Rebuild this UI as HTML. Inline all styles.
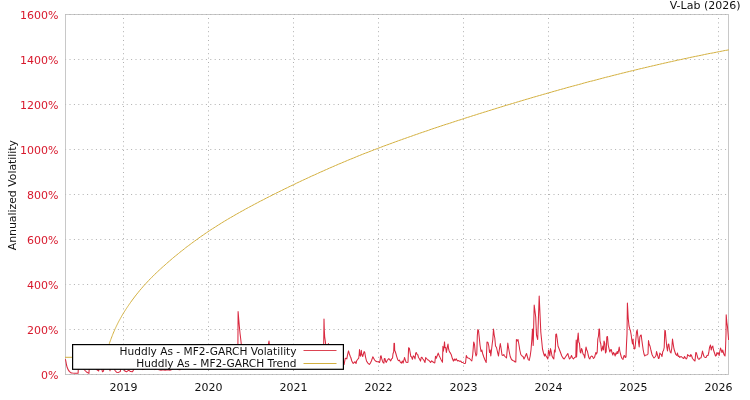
<!DOCTYPE html>
<html><head><meta charset="utf-8"><style>html,body{margin:0;padding:0;background:#fff;width:750px;height:400px;overflow:hidden}svg{display:block;will-change:transform}</style></head>
<body><svg width="750" height="400" viewBox="0 0 750 400">
<style>
text{font-family:"DejaVu Sans","Liberation Sans",sans-serif;font-size:11px;}
.g{stroke:#b0b0b0;stroke-width:1;stroke-dasharray:1 3.4;fill:none}
.gh{stroke:#b0b0b0;stroke-width:1;stroke-dasharray:1 3.4;stroke-dashoffset:0.4;fill:none}
.gv{stroke:#b0b0b0;stroke-width:1;stroke-dasharray:1 3.4;stroke-dashoffset:0.9;fill:none}
.yl{fill:#d8182c;text-anchor:end}
.xl{fill:#111;text-anchor:middle}
</style>
<rect x="0" y="0" width="750" height="400" fill="#fff"/>
<rect x="65.5" y="14.5" width="663.0" height="360.0" fill="none" stroke="#c8c8c8" stroke-width="1"/>
<g><line x1="65.5" y1="374.5" x2="728.5" y2="374.5" class="gh"/><line x1="65.5" y1="329.5" x2="728.5" y2="329.5" class="gh"/><line x1="65.5" y1="284.5" x2="728.5" y2="284.5" class="gh"/><line x1="65.5" y1="239.5" x2="728.5" y2="239.5" class="gh"/><line x1="65.5" y1="194.5" x2="728.5" y2="194.5" class="gh"/><line x1="65.5" y1="149.5" x2="728.5" y2="149.5" class="gh"/><line x1="65.5" y1="104.5" x2="728.5" y2="104.5" class="gh"/><line x1="65.5" y1="59.5" x2="728.5" y2="59.5" class="gh"/><line x1="65.5" y1="14.5" x2="728.5" y2="14.5" class="gh"/><line x1="123.5" y1="14.5" x2="123.5" y2="374.5" class="gv"/><line x1="208.5" y1="14.5" x2="208.5" y2="374.5" class="gv"/><line x1="293.5" y1="14.5" x2="293.5" y2="374.5" class="gv"/><line x1="378.5" y1="14.5" x2="378.5" y2="374.5" class="gv"/><line x1="463.5" y1="14.5" x2="463.5" y2="374.5" class="gv"/><line x1="548.5" y1="14.5" x2="548.5" y2="374.5" class="gv"/><line x1="633.5" y1="14.5" x2="633.5" y2="374.5" class="gv"/><line x1="718.5" y1="14.5" x2="718.5" y2="374.5" class="gv"/></g>
<svg x="65.5" y="14.5" width="663.0" height="360.0" viewBox="65.5 14.5 663.0 360.0" overflow="hidden">
<polyline points="65.4,359.1 66.0,362.0 66.5,365.0 67.3,367.8 68.3,369.9 69.3,371.4 70.4,372.4 71.5,372.9 72.5,373.1 75.0,373.3 78.1,373.3 78.5,364.0 80.0,358.0 81.0,362.0 82.5,366.0 84.0,369.5 86.5,372.0 88.9,373.4 89.6,364.0 91.0,360.0 93.0,362.0 95.5,364.0 97.0,369.8 98.7,371.0 99.5,366.0 100.5,364.0 101.5,368.0 102.5,371.8 103.5,371.0 104.5,365.0 106.0,362.0 109.3,366.0 110.0,370.8 110.7,366.0 112.0,362.0 113.8,366.0 115.0,370.5 116.5,372.2 118.5,372.4 120.3,371.5 121.2,366.0 122.5,362.0 123.7,367.0 124.8,371.0 126.5,371.8 128.7,370.2 130.5,371.6 132.5,371.8 134.0,369.0 135.0,362.0 137.0,364.0 139.0,361.0 141.0,366.0 142.5,369.6 144.0,369.5 146.0,365.0 148.0,361.0 150.0,363.0 152.0,360.0 154.0,365.0 155.0,369.6 156.0,366.0 157.5,368.0 159.0,369.8 161.0,370.2 163.0,369.8 165.0,370.2 168.0,369.8 170.0,370.2 172.0,369.6 173.0,366.0 175.0,362.0 177.0,368.0 178.0,369.6 180.0,369.8 181.5,366.0 183.0,362.0 186.0,364.0 189.0,360.0 192.0,362.0 195.0,358.0 198.0,361.0 201.0,357.0 204.0,360.0 207.0,356.0 210.0,359.0 213.0,357.0 216.0,360.0 219.0,356.0 222.0,358.0 225.0,355.0 228.0,358.0 231.0,356.0 234.0,359.0 236.0,356.0 237.9,346.0 238.1,311.5 238.8,320.0 239.4,327.0 240.1,334.0 240.6,338.0 241.5,346.0 243.0,355.0 246.0,358.0 249.0,355.0 252.0,358.0 255.0,354.0 258.0,357.0 261.0,355.0 264.0,358.0 267.0,352.0 269.0,341.0 270.0,350.0 272.0,357.0 275.0,354.0 278.0,357.0 281.0,353.0 284.0,357.0 287.0,354.0 290.0,358.0 293.0,355.0 296.0,358.0 299.0,354.0 302.0,357.0 305.0,353.0 308.0,356.0 311.0,354.0 314.0,357.0 317.0,353.0 320.0,356.0 322.0,353.0 323.7,345.0 324.0,319.0 324.3,330.0 324.7,337.0 325.3,341.0 325.8,346.0 327.0,350.0 328.4,343.5 329.5,352.0 332.0,357.0 335.0,354.0 338.0,358.0 341.0,361.0 343.0,364.0 344.1,364.5 345.2,358.6 345.9,358.3 346.8,358.9 347.6,354.7 348.5,350.9 349.4,354.0 350.3,356.5 350.8,357.5 351.8,361.0 353.2,363.5 354.3,362.4 355.0,361.7 356.0,363.5 356.7,360.7 357.8,359.3 358.7,358.2 359.2,354.0 359.5,349.5 359.9,355.1 360.6,356.1 361.3,350.2 361.7,354.0 362.7,356.5 363.4,354.0 364.1,351.6 364.8,352.6 365.5,356.8 366.5,361.0 367.9,363.1 369.3,364.5 370.4,363.1 371.4,361.0 372.8,356.8 373.5,357.9 374.6,360.0 375.6,361.1 377.0,361.7 378.4,361.8 379.5,362.5 380.2,360.0 380.5,356.1 381.1,355.8 381.8,358.9 382.8,362.1 383.9,363.1 384.3,358.6 385.0,358.6 385.6,361.4 386.3,362.4 387.0,360.7 388.1,359.3 388.8,358.6 389.8,359.6 390.6,360.9 391.6,358.9 392.5,358.2 393.0,353.7 393.7,351.9 394.0,343.2 394.5,343.5 394.7,350.5 395.3,351.6 396.0,354.0 396.8,356.8 397.9,360.0 398.6,360.7 399.3,360.0 400.3,362.1 401.4,363.1 402.3,361.0 403.1,363.1 404.2,358.9 404.5,357.5 405.2,359.6 406.0,362.1 407.0,362.5 408.0,362.3 408.6,347.7 409.1,348.1 409.4,348.4 410.1,352.3 410.8,356.5 411.5,356.8 412.4,359.3 413.3,355.8 414.3,356.8 415.0,358.9 415.7,353.0 416.4,352.6 417.1,354.7 417.8,354.7 418.5,357.5 419.4,358.7 420.5,361.1 421.2,357.6 421.9,357.3 422.9,359.0 424.0,360.4 425.0,362.5 425.7,357.6 426.4,358.3 427.5,359.7 428.5,360.1 429.6,361.1 430.6,362.5 431.7,360.8 432.7,361.8 433.8,362.5 434.8,362.9 435.5,356.2 436.3,358.3 437.3,355.5 438.2,353.1 439.0,355.2 440.1,357.6 441.1,359.7 442.5,362.2 442.9,346.4 443.4,351.3 444.1,346.4 444.5,341.9 445.0,347.8 445.7,347.5 446.4,352.4 447.3,347.1 448.0,344.0 448.5,348.5 449.2,351.0 449.9,352.4 450.6,353.4 451.3,354.8 452.3,358.3 453.4,361.1 454.4,359.0 455.1,360.4 456.2,358.7 457.1,360.4 457.8,361.0 458.8,360.5 459.8,361.5 460.8,361.0 461.8,362.5 463.0,362.5 464.0,363.5 465.5,363.2 466.3,355.5 467.2,357.5 468.2,358.0 469.5,358.5 470.8,360.0 471.8,361.0 472.7,355.0 473.7,342.0 474.5,344.5 475.2,352.0 476.0,356.0 476.8,354.0 477.3,336.0 477.8,329.5 478.5,330.5 479.2,337.0 480.0,345.0 481.0,351.5 481.8,350.0 482.8,354.0 483.8,357.0 485.0,360.0 486.2,362.5 487.0,342.0 488.0,342.5 488.8,346.0 489.5,352.5 490.2,350.0 490.8,356.0 491.5,350.0 492.2,344.0 492.8,339.5 493.5,329.0 494.2,335.0 494.8,338.0 495.5,346.0 496.5,347.5 497.5,352.0 498.5,356.0 499.5,348.5 500.3,343.5 501.2,349.0 502.0,355.0 503.0,355.5 503.8,354.5 504.5,356.0 505.5,357.0 506.5,358.0 507.3,349.0 507.8,343.0 508.5,347.5 509.2,351.5 510.2,356.5 511.5,359.5 512.8,360.5 514.0,361.0 515.2,362.0 515.8,362.0 516.4,339.5 517.2,341.0 518.0,339.5 519.0,345.0 519.8,350.0 520.8,354.5 522.0,356.0 523.0,356.5 524.0,359.0 525.0,357.0 525.8,355.0 526.5,353.5 527.2,356.0 528.2,359.5 529.2,360.5 530.2,356.0 531.0,350.0 531.8,340.0 532.5,329.0 533.2,345.5 534.2,305.0 535.7,317.0 536.5,335.0 537.7,339.5 539.2,296.0 540.2,318.5 540.8,332.0 541.5,339.0 542.5,349.0 543.5,353.0 544.5,356.0 545.2,354.0 546.0,356.0 547.0,357.5 547.8,359.0 548.5,350.0 549.2,352.5 549.8,356.0 550.5,348.5 551.2,351.5 552.0,356.0 553.0,358.0 553.8,359.0 554.5,350.0 555.2,352.0 555.8,334.5 556.5,334.0 557.2,339.0 558.0,346.0 559.2,349.0 560.5,352.5 561.8,356.0 563.0,358.0 564.2,359.0 565.5,357.0 566.8,355.0 567.8,353.5 568.5,356.0 569.5,359.0 570.5,358.0 571.5,355.5 572.5,358.0 573.5,359.0 574.5,357.5 575.8,357.0 576.2,340.0 576.6,357.0 577.0,350.0 577.5,340.0 578.2,333.0 578.8,342.0 579.5,343.5 580.2,352.0 580.8,353.0 581.5,348.5 582.2,350.0 583.0,354.0 583.8,354.5 584.8,358.0 585.5,351.0 586.0,347.0 586.8,350.0 587.5,351.5 588.2,355.0 589.0,358.0 589.8,359.0 590.5,357.0 591.5,356.0 592.5,356.5 593.5,358.5 594.5,357.5 595.2,355.0 595.8,352.5 596.5,354.0 597.2,352.0 597.8,339.0 598.5,336.0 599.0,329.0 599.5,329.0 600.0,341.0 600.8,344.0 601.5,351.0 602.2,349.0 602.8,346.0 603.5,350.0 604.0,341.0 604.8,343.5 605.5,353.0 606.2,351.5 606.8,337.0 607.5,336.5 608.2,345.0 609.0,348.5 609.8,352.0 610.5,350.0 611.2,349.5 612.0,352.5 612.8,355.0 613.5,352.5 614.5,354.0 615.2,356.0 615.8,353.0 616.5,354.0 617.2,351.5 617.8,353.5 618.5,351.0 619.2,347.0 619.8,351.0 620.5,354.0 621.2,356.5 622.0,358.5 623.0,359.5 623.8,356.0 624.5,355.5 625.2,357.5 626.0,357.0 626.5,344.0 627.0,334.0 627.4,303.0 628.2,318.0 629.0,326.0 629.8,329.0 630.5,331.0 631.2,335.0 631.8,340.0 632.5,344.0 633.0,339.0 633.5,344.5 634.2,349.0 635.0,348.5 635.8,340.0 636.5,332.0 637.2,330.0 637.8,336.0 638.5,342.0 639.2,347.0 639.8,337.0 640.5,335.5 641.2,335.0 641.8,340.0 642.5,345.0 643.2,350.0 644.0,354.0 644.8,356.0 645.8,355.0 647.0,355.0 648.0,354.0 648.5,340.5 649.2,344.5 650.0,346.0 651.0,350.5 652.0,354.5 653.0,356.5 654.0,358.0 655.0,357.0 656.0,355.5 656.5,351.5 657.2,354.0 657.8,356.0 658.5,358.5 659.2,358.0 659.8,353.0 660.5,354.0 661.2,354.5 662.0,356.5 662.8,351.5 663.5,350.5 664.2,347.5 664.8,330.5 665.3,330.5 666.0,339.0 666.8,347.0 667.5,351.0 668.2,344.5 668.8,344.0 669.5,349.0 670.2,352.0 671.0,353.0 671.8,348.0 672.5,339.0 673.2,344.0 674.0,349.0 674.8,351.5 675.8,354.5 676.8,355.5 677.5,353.0 678.2,356.5 679.0,356.0 679.8,357.5 680.8,356.5 681.8,357.0 682.8,358.0 683.8,358.5 684.5,356.5 685.2,357.5 686.2,359.0 687.0,358.0 687.6,354.5 688.5,355.5 689.5,356.0 690.2,356.5 690.8,354.5 691.5,355.5 692.5,358.5 693.8,360.0 695.0,361.0 695.8,352.5 696.5,353.0 697.2,356.0 698.0,358.5 699.0,359.5 700.0,358.0 701.0,358.0 701.8,354.5 702.5,351.0 703.2,354.0 704.0,356.5 705.0,357.5 706.0,357.5 707.0,355.5 708.0,355.5 708.8,352.5 709.5,347.5 710.5,345.0 711.2,350.0 712.0,347.0 712.8,346.0 713.5,350.0 714.5,353.0 715.5,356.0 716.2,355.5 717.0,352.5 717.8,354.0 718.5,353.0 719.2,355.5 719.8,351.5 720.5,348.0 721.2,350.0 722.0,352.5 722.8,350.0 723.5,353.0 724.2,355.0 725.0,356.0 725.5,349.0 726.0,334.0 726.2,314.8 726.8,322.0 727.5,327.0 728.6,340.0" fill="none" stroke="#d9283f" stroke-width="1.05" stroke-linejoin="round"/>
<polyline points="65.0,357.3 100.0,357.3 104.0,354.0 107.0,349.0 108.8,345.1 109.3,343.7 109.8,342.2 110.3,340.8 110.8,339.5 111.3,338.2 111.8,336.9 112.3,335.6 112.8,334.3 113.3,333.1 113.8,331.9 114.3,330.8 114.8,329.6 115.3,328.5 115.8,327.4 116.3,326.4 116.8,325.3 117.3,324.3 117.8,323.3 118.3,322.3 118.8,321.3 119.3,320.4 119.8,319.5 120.3,318.6 120.8,317.7 121.3,316.8 121.8,315.9 122.3,315.1 122.8,314.2 123.3,313.4 123.8,312.6 124.3,311.8 124.8,311.0 125.3,310.2 125.8,309.4 126.3,308.7 126.8,307.9 127.3,307.2 127.8,306.4 128.3,305.7 128.8,305.0 129.3,304.2 129.8,303.5 130.3,302.8 130.8,302.1 132.3,300.0 133.8,298.0 135.3,296.0 136.8,294.1 138.3,292.3 139.8,290.4 141.3,288.7 142.8,286.9 144.3,285.2 145.8,283.6 147.3,282.0 148.8,280.4 150.3,278.8 151.8,277.3 153.3,275.9 154.7,274.4 156.2,273.0 157.7,271.6 159.2,270.2 160.6,268.9 162.1,267.5 163.6,266.2 165.1,264.9 166.5,263.6 168.0,262.3 169.5,261.0 171.0,259.7 172.4,258.5 173.9,257.2 175.4,256.0 176.9,254.8 178.4,253.6 179.8,252.4 181.3,251.2 182.8,250.1 184.3,248.9 185.7,247.7 187.2,246.6 188.7,245.5 190.2,244.4 191.6,243.3 193.1,242.2 194.6,241.1 196.1,240.0 197.5,239.0 199.0,237.9 200.5,236.8 202.0,235.8 203.5,234.8 205.0,233.7 206.5,232.7 208.0,231.7 209.5,230.7 211.0,229.7 212.5,228.7 214.0,227.8 215.5,226.8 217.0,225.9 218.5,224.9 220.0,224.0 221.5,223.0 223.0,222.1 224.5,221.2 226.0,220.3 227.5,219.4 229.0,218.5 230.5,217.6 232.0,216.8 233.5,215.9 235.0,215.0 236.5,214.2 238.0,213.3 239.5,212.5 241.0,211.6 242.5,210.8 244.0,210.0 245.5,209.1 247.0,208.3 248.5,207.5 250.0,206.7 251.5,205.9 253.0,205.1 254.5,204.3 256.0,203.5 257.5,202.7 259.0,201.9 260.5,201.1 262.0,200.4 263.5,199.6 265.0,198.8 266.5,198.0 268.0,197.3 269.5,196.5 271.0,195.8 272.5,195.0 274.0,194.2 275.5,193.5 277.0,192.7 278.5,192.0 280.0,191.3 281.5,190.5 283.0,189.8 284.5,189.0 286.0,188.3 287.5,187.6 289.0,186.8 290.5,186.1 292.0,185.4 293.5,184.7 295.0,184.0 296.5,183.2 298.0,182.5 299.5,181.8 301.0,181.1 302.5,180.4 304.0,179.7 305.5,179.0 307.0,178.3 308.5,177.6 310.0,176.9 311.5,176.2 313.0,175.5 314.5,174.9 316.0,174.2 317.5,173.5 319.0,172.8 320.5,172.1 322.0,171.5 323.5,170.8 325.0,170.1 326.5,169.5 328.0,168.8 329.5,168.1 331.0,167.5 332.5,166.8 334.0,166.2 335.5,165.5 337.0,164.9 338.5,164.2 340.0,163.6 341.5,163.0 343.0,162.3 344.5,161.7 346.0,161.1 347.5,160.4 349.0,159.8 350.5,159.2 352.0,158.6 353.5,158.0 355.0,157.4 356.5,156.7 358.0,156.1 359.5,155.5 361.0,154.9 362.5,154.3 364.0,153.7 365.5,153.1 367.0,152.6 368.5,152.0 370.0,151.4 371.5,150.8 373.0,150.2 374.5,149.6 376.0,149.1 377.5,148.5 379.0,147.9 380.5,147.4 382.0,146.8 383.5,146.2 385.0,145.7 386.5,145.1 388.0,144.6 389.5,144.0 391.0,143.5 392.5,142.9 394.0,142.4 395.5,141.8 397.0,141.3 398.5,140.7 400.0,140.2 401.5,139.7 403.0,139.1 404.5,138.6 406.0,138.1 407.5,137.5 409.0,137.0 410.5,136.5 412.0,136.0 413.5,135.4 415.0,134.9 416.5,134.4 418.0,133.9 419.5,133.3 421.0,132.8 422.5,132.3 424.0,131.8 425.5,131.3 427.0,130.8 428.5,130.3 430.0,129.7 431.5,129.2 433.0,128.7 434.5,128.2 436.0,127.7 437.5,127.2 439.0,126.7 440.5,126.2 442.0,125.7 443.5,125.2 445.0,124.7 446.5,124.2 448.0,123.8 449.5,123.3 451.0,122.8 452.5,122.3 454.0,121.8 455.5,121.3 457.0,120.8 458.5,120.3 460.0,119.9 461.5,119.4 463.0,118.9 464.5,118.4 466.0,117.9 467.5,117.4 469.0,117.0 470.5,116.5 472.0,116.0 473.5,115.5 475.0,115.1 476.5,114.6 478.0,114.1 479.5,113.6 481.0,113.2 482.5,112.7 484.0,112.2 485.5,111.8 487.0,111.3 488.5,110.8 490.0,110.4 491.5,109.9 493.0,109.4 494.5,109.0 496.0,108.5 497.5,108.0 499.0,107.6 500.5,107.1 502.0,106.7 503.5,106.2 505.0,105.7 506.5,105.3 508.0,104.8 509.5,104.4 511.0,103.9 512.5,103.5 514.0,103.0 515.5,102.6 517.0,102.1 518.5,101.7 520.0,101.2 521.5,100.8 523.0,100.3 524.5,99.9 526.0,99.4 527.5,99.0 529.0,98.6 530.5,98.1 532.0,97.7 533.5,97.2 535.0,96.8 536.5,96.4 538.0,95.9 539.5,95.5 541.0,95.1 542.5,94.6 544.0,94.2 545.5,93.8 547.0,93.3 548.5,92.9 550.0,92.5 551.5,92.1 553.0,91.6 554.5,91.2 556.0,90.8 557.5,90.4 559.0,89.9 560.5,89.5 562.0,89.1 563.5,88.7 565.0,88.3 566.5,87.8 568.0,87.4 569.5,87.0 571.0,86.6 572.5,86.2 574.0,85.8 575.5,85.4 577.0,85.0 578.5,84.6 580.0,84.2 581.5,83.8 583.0,83.3 584.5,82.9 586.0,82.5 587.5,82.1 589.0,81.7 590.5,81.3 592.0,81.0 593.5,80.6 595.0,80.2 596.5,79.8 598.0,79.4 599.5,79.0 601.0,78.6 602.5,78.2 604.0,77.8 605.5,77.4 607.0,77.0 608.5,76.7 610.0,76.3 611.5,75.9 613.0,75.5 614.5,75.1 616.0,74.8 617.5,74.4 619.0,74.0 620.5,73.6 622.0,73.2 623.5,72.9 625.0,72.5 626.5,72.1 628.0,71.8 629.5,71.4 631.0,71.0 632.5,70.7 634.0,70.3 635.5,69.9 637.0,69.6 638.5,69.2 640.0,68.8 641.5,68.5 643.0,68.1 644.5,67.8 646.0,67.4 647.5,67.1 649.0,66.7 650.5,66.4 652.0,66.0 653.5,65.7 655.0,65.3 656.5,65.0 658.0,64.6 659.5,64.3 661.0,63.9 662.5,63.6 664.0,63.2 665.5,62.9 667.0,62.6 668.5,62.2 670.0,61.9 671.5,61.6 673.0,61.2 674.5,60.9 676.0,60.6 677.5,60.2 679.0,59.9 680.5,59.6 682.0,59.3 683.5,58.9 685.0,58.6 686.5,58.3 688.0,58.0 689.5,57.6 691.0,57.3 692.5,57.0 694.0,56.7 695.5,56.4 697.0,56.1 698.5,55.8 700.0,55.5 701.5,55.2 703.0,54.9 704.5,54.5 706.0,54.2 707.5,53.9 709.0,53.6 710.5,53.3 712.0,53.1 713.5,52.8 715.0,52.5 716.5,52.2 718.0,51.9 719.5,51.6 721.0,51.3 722.5,51.0 724.0,50.7 725.5,50.4 727.0,50.2 728.5,49.9 729.0,49.8" fill="none" stroke="#d3b040" stroke-width="1" stroke-linejoin="round"/>
</svg>
<text x="58.5" y="378.8" class="yl">0%</text><text x="58.5" y="333.8" class="yl">200%</text><text x="58.5" y="288.8" class="yl">400%</text><text x="58.5" y="243.8" class="yl">600%</text><text x="58.5" y="198.8" class="yl">800%</text><text x="58.5" y="153.8" class="yl">1000%</text><text x="58.5" y="108.8" class="yl">1200%</text><text x="58.5" y="63.8" class="yl">1400%</text><text x="58.5" y="18.8" class="yl">1600%</text>
<text x="123.5" y="391" class="xl">2019</text><text x="208.5" y="391" class="xl">2020</text><text x="293.5" y="391" class="xl">2021</text><text x="378.5" y="391" class="xl">2022</text><text x="463.5" y="391" class="xl">2023</text><text x="548.5" y="391" class="xl">2024</text><text x="633.5" y="391" class="xl">2025</text><text x="718.5" y="391" class="xl">2026</text>
<text x="740.5" y="9" style="text-anchor:end;fill:#111">V-Lab (2026)</text>
<text transform="translate(15.6,195.1) rotate(-90)" style="text-anchor:middle;fill:#111;font-size:10.85px">Annualized Volatility</text>
<rect x="72.6" y="344.6" width="270.8" height="24.7" fill="#fff" stroke="#000" stroke-width="1.2"/>
<text x="296.5" y="354.7" style="text-anchor:end;fill:#111;font-size:10.6px">Huddly As - MF2-GARCH Volatility</text>
<text x="296.5" y="366.9" style="text-anchor:end;fill:#111;font-size:10.6px">Huddly As - MF2-GARCH Trend</text>
<line x1="303.5" y1="350.5" x2="336.5" y2="350.5" stroke="#dc4452" stroke-width="1"/>
<line x1="303.5" y1="363.5" x2="336.5" y2="363.5" stroke="#d3b040" stroke-width="1"/>
</svg></body></html>
